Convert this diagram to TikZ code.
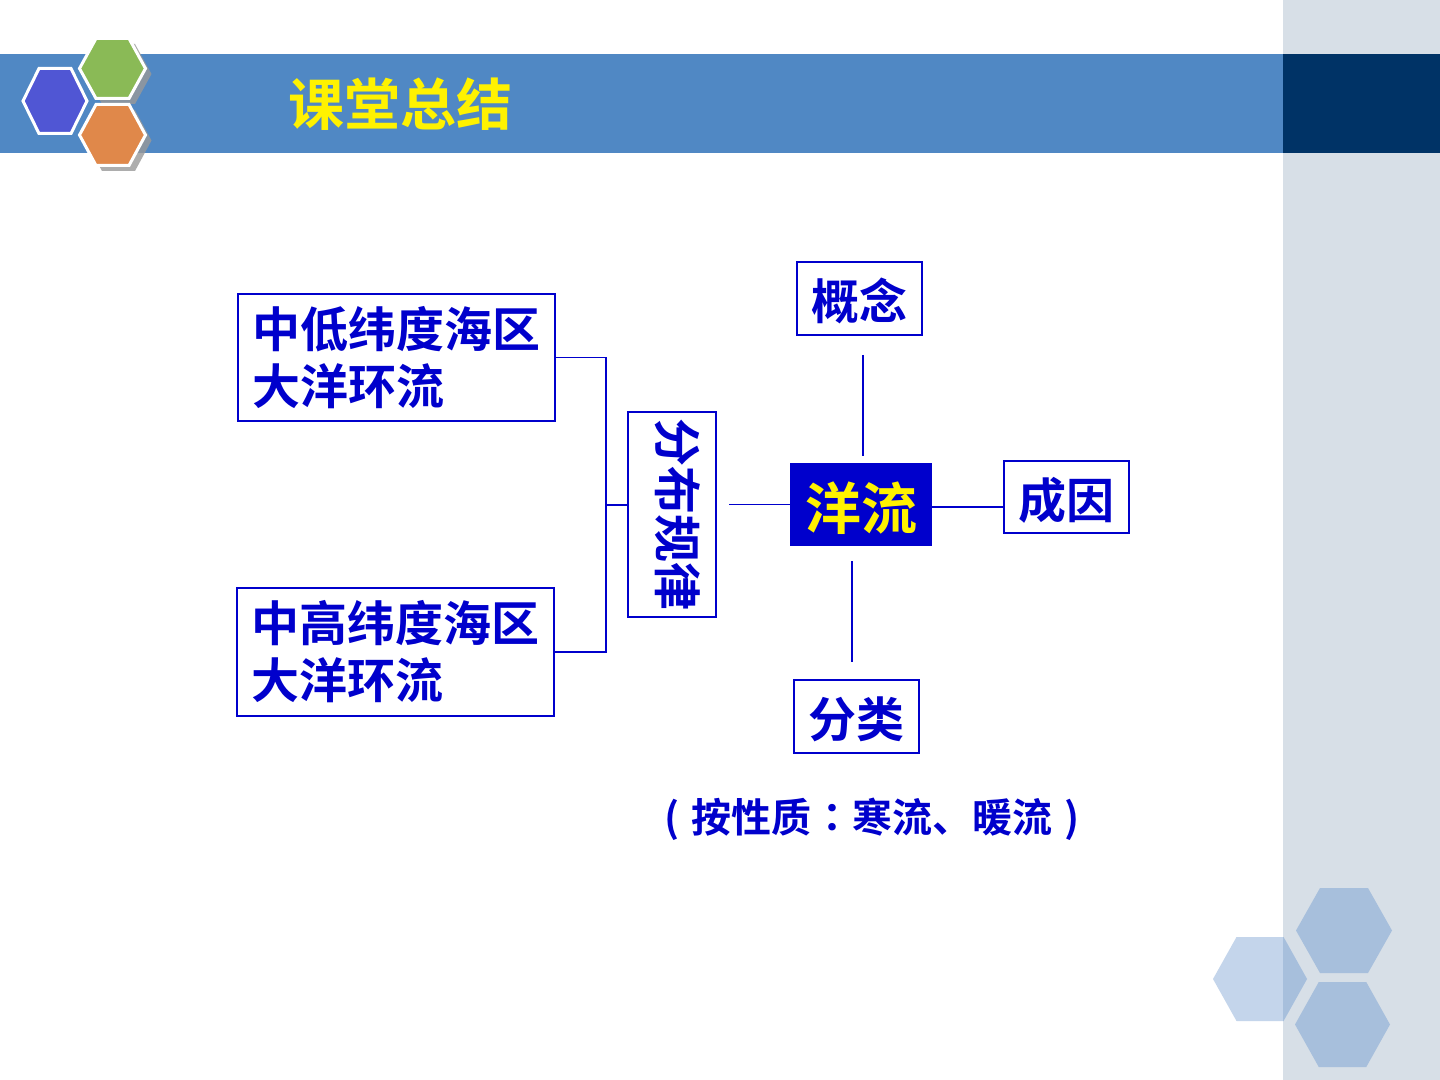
\documentclass[tikz,border=0pt]{standalone}
\usepackage{fontspec}
\newfontfamily\cjk{Noto Sans CJK SC}[BoldFont={Noto Sans CJK SC Bold}]
\newfontfamily\cjkpunct{Noto Sans CJK JP}[BoldFont={Noto Sans CJK JP Bold}]
\usepackage{tikz}
\usetikzlibrary{positioning,calc}
\definecolor{deepblue}{RGB}{0,0,204}
\definecolor{barblue}{RGB}{80,136,196}
\definecolor{hdrnavy}{RGB}{0,51,102}
\definecolor{sidegray}{RGB}{215,223,231}
\definecolor{hexblue}{RGB}{80,86,212}
\definecolor{hexgreen}{RGB}{138,186,86}
\definecolor{hexorange}{RGB}{224,136,74}
\definecolor{hexpale}{RGB}{196,213,235}
\definecolor{hexmid}{RGB}{167,191,220}
\tikzset{
	conbox/.style={rectangle, draw=deepblue, line width=1pt, text=deepblue, inner sep=0pt,
		font=\fontsize{24}{28.5}\selectfont\bfseries\cjk},
	oneline/.style={text height=25pt, text depth=4pt},
	link/.style={draw=deepblue, line width=0.9pt},
	hexline/.style={draw=white, line width=1.5pt}
}
\newcommand{\hexa}[5][]{\path[#1] ({#2-#4},#3) -- ({#2-#4/2},{#3-#5}) -- ({#2+#4/2},{#3-#5}) -- ({#2+#4},#3) -- ({#2+#4/2},{#3+#5}) -- ({#2-#4/2},{#3+#5}) -- cycle;}

\begin{document}
\begin{tikzpicture}[x=0.5pt, y=-0.5pt]
			\fill[white] (0,0) rectangle (1440,1080);
			\useasboundingbox (0,0) rectangle (1440,1080);
			\fill[sidegray] (1283,0) rectangle (1440,1080);
			\fill[barblue] (0,54) rectangle (1283,153);
			\fill[hdrnavy] (1283,54) rectangle (1440,153);
			\hexa[fill=hexblue, hexline]{55}{101}{32}{32.5}
			\hexa[fill=black!40, opacity=0.8]{118.5}{74}{33}{30}
			\hexa[fill=black!40, opacity=0.8]{118.5}{140.5}{33}{30.5}
			\hexa[fill=hexgreen, hexline]{112.5}{68.5}{33}{30}
			\hexa[fill=hexorange, hexline]{112.5}{135}{33}{30.5}
			\hexa[fill=hexpale]{1260}{979}{47}{42}
			\begin{scope}
				\clip (1283,0) rectangle (1440,1080);
				\hexa[fill=hexmid]{1260}{979}{47}{42}
			\end{scope}
			\hexa[fill=hexmid]{1344}{930.5}{48}{42.5}
			\hexa[fill=hexmid]{1342.5}{1024.5}{47.5}{42.5}
			\node[text=yellow, font=\fontsize{28}{32}\selectfont\bfseries\cjk] (title) at (400,104) {课堂总结};
			\node[conbox, fill=deepblue, text=yellow, minimum width=70pt, minimum height=40.5pt,
				text height=29.5pt, text depth=4.5pt, font=\fontsize{28}{32}\selectfont\bfseries\cjk] (cur) at (861,504.5) {洋流};
			\node[conbox, oneline, minimum width=62.5pt, minimum height=36.5pt, above=63.5pt of cur, xshift=-0.75pt] (concept) {概念};
			\node[conbox, oneline, minimum width=62.5pt, minimum height=36pt, right=35.5pt of cur, yshift=3.75pt] (cause) {成因};
			\node[conbox, oneline, minimum width=62.5pt, minimum height=36.5pt, below=66.5pt of cur, xshift=-2.25pt] (kind) {分类};
			\node[conbox, text height=22pt, text depth=9pt, minimum width=102.5pt, minimum height=44pt, rotate=-90] (distr) at (672,514.5) {分布规律};
			\node[conbox, minimum width=158.5pt, minimum height=63.5pt, align=left] (lowlat) at (396.5,357.5) {中低纬度海区\\大洋环流};
			\node[conbox, minimum width=158.5pt, minimum height=64pt, align=left] (highlat) at (395.5,652) {中高纬度海区\\大洋环流};
			\node[text=deepblue, font=\fontsize{20}{24}\selectfont\bfseries\cjk] (note) at (872,819)
				{\makebox[1em]{(}按性质{\cjkpunct ：}寒流、暖流\makebox[1em]{)}};
			\coordinate (bt) at (606,357.5);
			\coordinate (bb) at (606,652);
			\coordinate (bm) at ($(bt)!0.5!(bb)$);
			\draw[link] (lowlat.east) -| (bb) -- (highlat.east);
			\draw[link] (bm) -- (bm -| distr.south);
			\draw[link, shorten >=6pt] (cur.west) -- (cur.west -| distr.north);
			\draw[link, shorten <=9.5pt, shorten >=3.5pt] ([xshift=1.9pt]concept.south) -- ([xshift=1.9pt]concept.south |- cur.north);
			\draw[link] ([yshift=-1.25pt]cur.east) -- ([yshift=-1.25pt]cur.east -| cause.west);
			\draw[link, shorten <=7.5pt, shorten >=8.5pt] ([xshift=-4.5pt]cur.south) -- ([xshift=-4.5pt]cur.south |- kind.north);
		\end{tikzpicture}
\end{document}
